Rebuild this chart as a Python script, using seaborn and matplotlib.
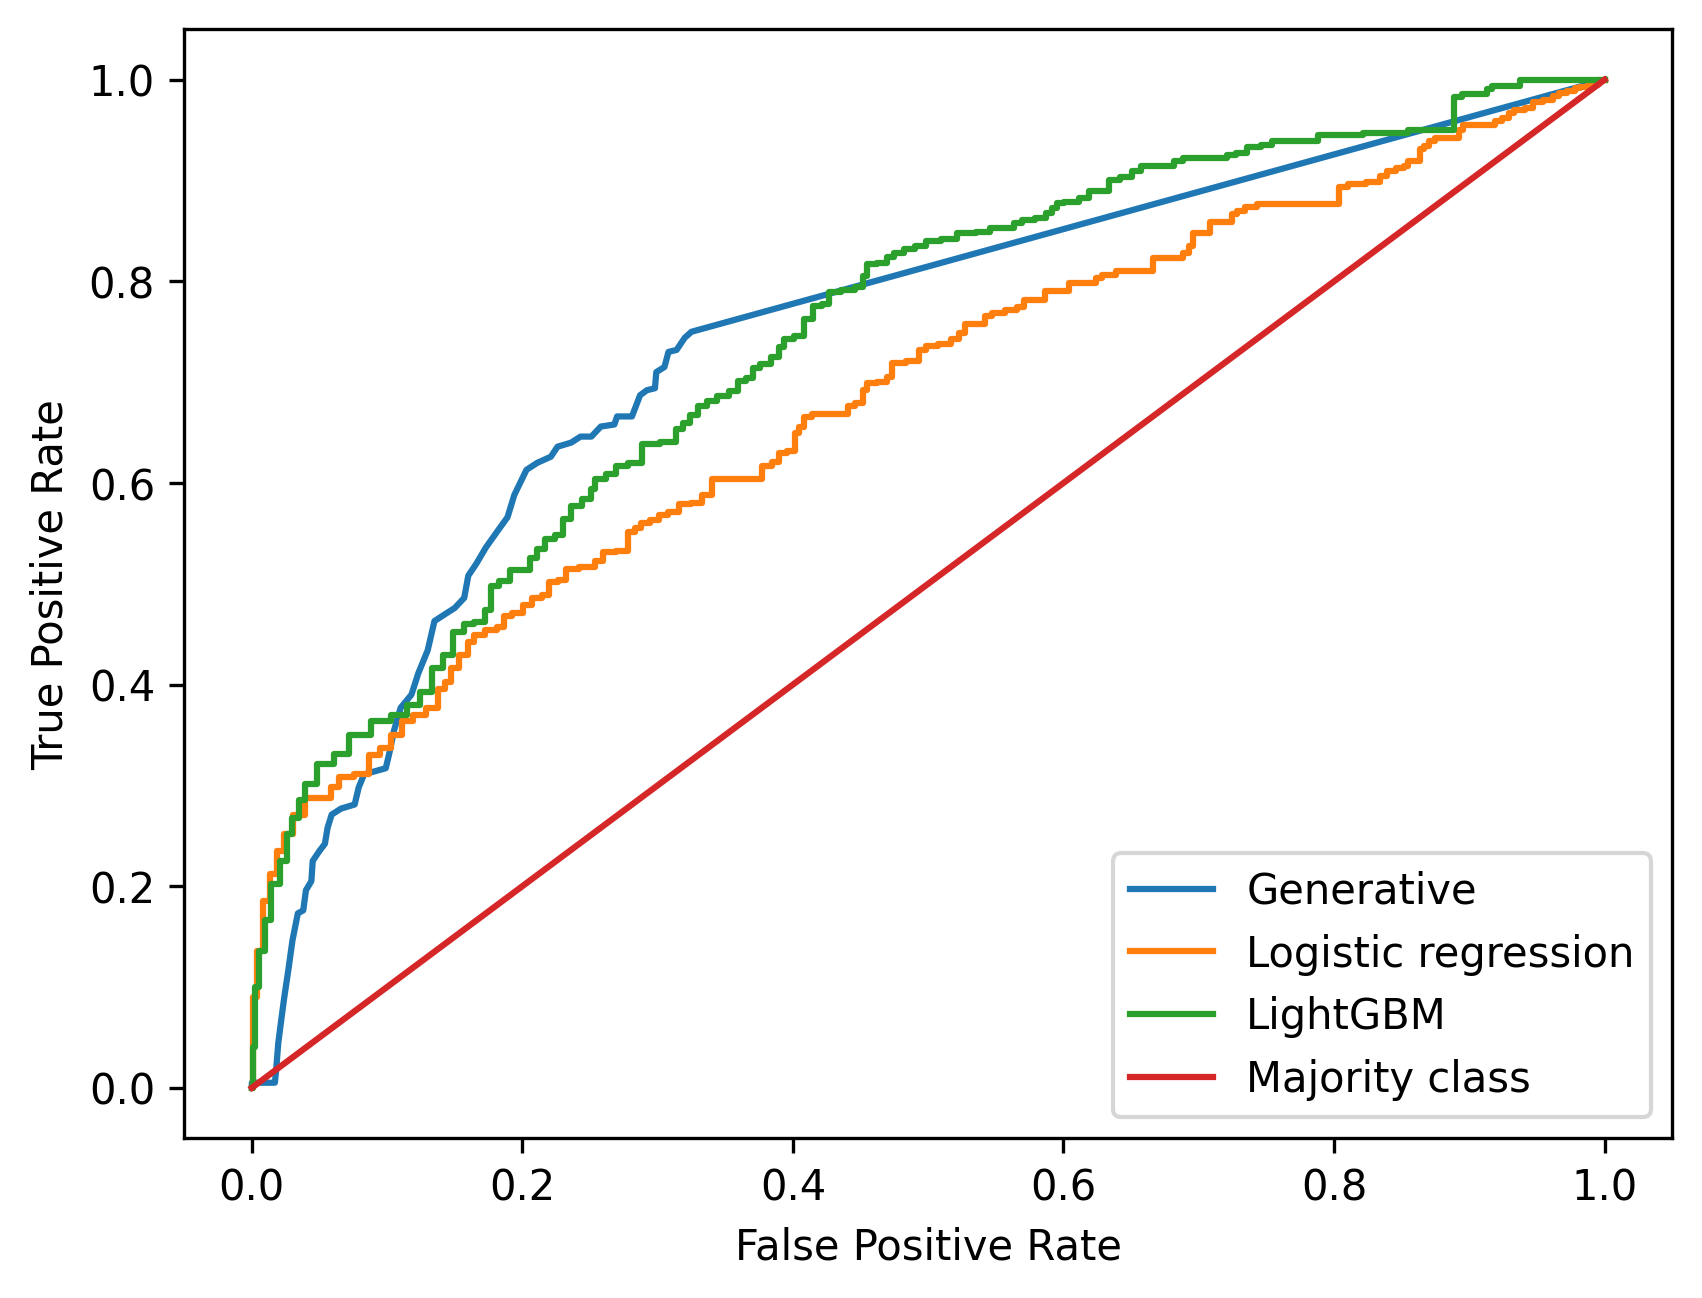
import matplotlib
matplotlib.use("Agg")
import matplotlib.pyplot as plt
import seaborn as sns
import pandas as pd

labels = ["Generative", "Logistic regression", "LightGBM", "Majority class"]
colors = ["#1f77b4", "#ff7f0e", "#2ca02c", "#d62728"]

gen_fpr = [0, 0, 0.017, 0.018, 0.0195, 0.022, 0.024, 0.027, 0.030, 0.034, 0.038, 0.040, 0.044, 0.045,
           0.050, 0.054, 0.056, 0.059, 0.066, 0.076, 0.079, 0.083, 0.091, 0.099, 0.102, 0.105, 0.110,
           0.118, 0.123, 0.130, 0.135, 0.143, 0.150, 0.157, 0.160, 0.166, 0.173, 0.182, 0.189, 0.194,
           0.203, 0.211, 0.221, 0.226, 0.236, 0.243, 0.251, 0.258, 0.268, 0.270, 0.281, 0.287, 0.292,
           0.298, 0.299, 0.305, 0.308, 0.314, 0.320, 0.325, 1.0]
gen_tpr = [0, 0.005, 0.005, 0.018, 0.044, 0.070, 0.090, 0.117, 0.146, 0.173, 0.176, 0.196, 0.205, 0.225,
           0.235, 0.242, 0.258, 0.271, 0.277, 0.281, 0.298, 0.311, 0.314, 0.317, 0.334, 0.354, 0.377,
           0.390, 0.411, 0.434, 0.463, 0.470, 0.476, 0.486, 0.508, 0.520, 0.536, 0.553, 0.566, 0.588,
           0.613, 0.620, 0.626, 0.636, 0.640, 0.646, 0.646, 0.656, 0.658, 0.666, 0.666, 0.687, 0.692,
           0.694, 0.710, 0.715, 0.730, 0.732, 0.744, 0.750, 1.0]

lr_fpr = [0, 0.002, 0.006, 0.011, 0.016, 0.021, 0.027, 0.034, 0.044, 0.056, 0.061, 0.068, 0.083, 0.090,
          0.100, 0.106, 0.116, 0.123, 0.135, 0.140, 0.145, 0.150, 0.157, 0.162, 0.167, 0.177, 0.185,
          0.188, 0.197, 0.204, 0.210, 0.219, 0.221, 0.231, 0.233, 0.251, 0.256, 0.263, 0.275, 0.281,
          0.285, 0.290, 0.298, 0.304, 0.312, 0.319, 0.331, 0.335, 0.340, 0.340, 0.375, 0.380, 0.389,
          0.391, 0.400, 0.403, 0.406, 0.410, 0.418, 0.439, 0.442, 0.450, 0.453, 0.457, 0.467, 0.472,
          0.475, 0.492, 0.494, 0.502, 0.513, 0.520, 0.525, 0.529, 0.541, 0.543, 0.551, 0.562, 0.569,
          0.573, 0.585, 0.588, 0.602, 0.606, 0.623, 0.625, 0.632, 0.646, 0.663, 0.669, 0.685, 0.691,
          0.694, 0.698, 0.706, 0.711, 0.723, 0.726, 0.731, 0.738, 0.748, 0.801, 0.806, 0.815, 0.832,
          0.836, 0.843, 0.849, 0.854, 0.856, 0.862, 0.865, 0.868, 0.873, 0.877, 0.891, 0.894, 0.897,
          0.918, 0.920, 0.928, 0.930, 0.936, 0.946, 0.948, 0.961, 0.963, 0.969, 0.976, 0.980, 0.984,
          0.991, 1.0]
lr_tpr = [0, 0.090, 0.136, 0.185, 0.212, 0.235, 0.252, 0.271, 0.287, 0.287, 0.298, 0.308, 0.311, 0.330,
          0.337, 0.350, 0.364, 0.370, 0.377, 0.396, 0.403, 0.416, 0.429, 0.442, 0.449, 0.454, 0.457,
          0.468, 0.471, 0.479, 0.486, 0.489, 0.502, 0.504, 0.515, 0.517, 0.523, 0.532, 0.533, 0.551,
          0.555, 0.560, 0.563, 0.568, 0.571, 0.579, 0.580, 0.588, 0.588, 0.604, 0.604, 0.617, 0.621,
          0.630, 0.632, 0.650, 0.656, 0.665, 0.668, 0.668, 0.676, 0.679, 0.692, 0.699, 0.700, 0.705,
          0.719, 0.721, 0.732, 0.736, 0.738, 0.743, 0.749, 0.758, 0.758, 0.766, 0.769, 0.772, 0.775,
          0.782, 0.782, 0.790, 0.790, 0.798, 0.798, 0.803, 0.806, 0.810, 0.810, 0.823, 0.823, 0.828,
          0.835, 0.848, 0.848, 0.859, 0.859, 0.867, 0.870, 0.874, 0.877, 0.877, 0.894, 0.897, 0.899,
          0.905, 0.909, 0.912, 0.914, 0.919, 0.919, 0.931, 0.934, 0.939, 0.942, 0.942, 0.950, 0.955,
          0.955, 0.959, 0.962, 0.967, 0.970, 0.972, 0.978, 0.980, 0.984, 0.987, 0.989, 0.992, 0.993,
          0.995, 1.0]

gbm_fpr = [0, 0.002, 0.003, 0.008, 0.011, 0.017, 0.024, 0.028, 0.032, 0.037, 0.042, 0.055, 0.066, 0.078,
           0.098, 0.108, 0.121, 0.128, 0.138, 0.145, 0.153, 0.160, 0.169, 0.175, 0.178, 0.187, 0.194,
           0.203, 0.208, 0.213, 0.220, 0.228, 0.232, 0.240, 0.248, 0.253, 0.255, 0.268, 0.270, 0.286,
           0.291, 0.312, 0.315, 0.322, 0.326, 0.333, 0.340, 0.348, 0.357, 0.362, 0.369, 0.372, 0.380,
           0.388, 0.391, 0.396, 0.406, 0.411, 0.418, 0.425, 0.429, 0.442, 0.450, 0.453, 0.457, 0.467,
           0.472, 0.478, 0.486, 0.494, 0.502, 0.517, 0.525, 0.545, 0.546, 0.562, 0.565, 0.573, 0.585,
           0.589, 0.594, 0.596, 0.605, 0.618, 0.620, 0.631, 0.636, 0.647, 0.654, 0.660, 0.681, 0.683,
           0.694, 0.720, 0.722, 0.733, 0.738, 0.754, 0.755, 0.786, 0.790, 0.853, 0.856, 0.886, 0.892,
           0.897, 0.912, 0.914, 0.920, 0.936, 0.939, 1.0]
gbm_tpr = [0, 0.040, 0.100, 0.136, 0.166, 0.202, 0.225, 0.252, 0.268, 0.285, 0.301, 0.321, 0.331, 0.350,
           0.364, 0.370, 0.380, 0.393, 0.416, 0.429, 0.452, 0.460, 0.462, 0.474, 0.498, 0.503, 0.514,
           0.514, 0.526, 0.534, 0.544, 0.548, 0.564, 0.577, 0.584, 0.594, 0.604, 0.609, 0.617, 0.620,
           0.639, 0.641, 0.654, 0.659, 0.667, 0.676, 0.681, 0.686, 0.691, 0.701, 0.704, 0.714, 0.718,
           0.725, 0.735, 0.743, 0.746, 0.763, 0.776, 0.778, 0.789, 0.791, 0.794, 0.805, 0.817, 0.818,
           0.824, 0.828, 0.832, 0.835, 0.840, 0.842, 0.848, 0.849, 0.853, 0.853, 0.858, 0.861, 0.863,
           0.868, 0.873, 0.878, 0.879, 0.883, 0.890, 0.890, 0.901, 0.904, 0.909, 0.914, 0.914, 0.919,
           0.922, 0.922, 0.925, 0.927, 0.933, 0.935, 0.939, 0.939, 0.945, 0.947, 0.950, 0.950, 0.983,
           0.986, 0.986, 0.991, 0.994, 0.994, 1.0, 1.0]

maj_fpr = [0.0, 1.0]
maj_tpr = [0.0, 1.0]

frames = []
for name, fx, fy in zip(labels, [gen_fpr, lr_fpr, gbm_fpr, maj_fpr], [gen_tpr, lr_tpr, gbm_tpr, maj_tpr]):
    df = pd.DataFrame({"fpr": fx, "tpr": fy})
    df["model"] = name
    frames.append(df)
data = pd.concat(frames, ignore_index=True)

fig, ax = plt.subplots(figsize=(6.4, 4.8))
sns.lineplot(data=data, x="fpr", y="tpr", hue="model", hue_order=labels,
             palette=colors, estimator=None, errorbar=None, sort=False,
             linewidth=1.5, ax=ax)
# staircase look of the ROC curves for logistic regression and LightGBM
data_lines = [ln for ln in ax.lines if len(ln.get_xdata()) > 2]
for ln in data_lines:
    c = matplotlib.colors.to_hex(ln.get_color())
    if c in ("#ff7f0e", "#2ca02c"):
        ln.set_drawstyle("steps-mid")
ax.set_xlabel("False Positive Rate")
ax.set_ylabel("True Positive Rate")
handles, lbls = ax.get_legend_handles_labels()
ax.legend(handles, lbls, loc="lower right")
fig.savefig("out.png", dpi=300, bbox_inches="tight")
